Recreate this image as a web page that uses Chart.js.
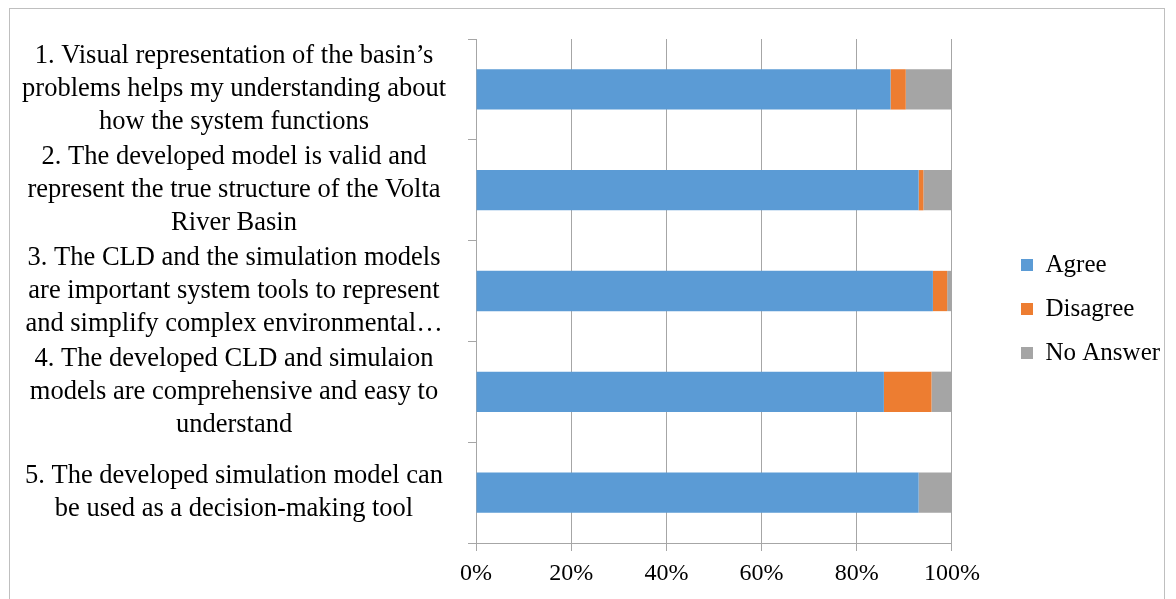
<!DOCTYPE html>
<html>
<head>
<meta charset="utf-8">
<script src="https://cdn.jsdelivr.net/npm/chart.js@4"></script>
<style>
  html, body { margin: 0; padding: 0; background: #fff; }
  #wrap { position: relative; width: 1176px; height: 599px; }
  #frame { position: absolute; left: 9px; top: 8px; width: 1156px; height: 600px; border: 1px solid #bfbfbf; box-sizing: border-box; }
  canvas { position: absolute; left: 0; top: 0; }
</style>
</head>
<body>
<div id="wrap">
  <div id="frame"></div>
  <canvas id="grafico" width="1176" height="599"></canvas>
</div>
<script>
// === DATOS ===
const categorias = [
    ["1. Visual representation of the basin\u2019s", "problems helps my understanding about", "how the system functions"],
    ["2. The developed model is valid and", "represent the true structure of the Volta", "River Basin"],
    ["3. The CLD and the simulation models", "are important system tools to represent", "and simplify complex environmental\u2026"],
    ["4. The developed CLD and simulaion", "models are comprehensive and easy to", "understand"],
    ["5. The developed simulation model can", "be used as a decision-making tool"]
];
const agree = [87.1, 93, 96, 85.7, 93];
const disagree = [3.2, 1, 3, 10, 0];
const noAnswer = [9.7, 6, 1, 4.3, 7];
const ticksX = [0, 20, 40, 60, 80, 100];

const fuente = "'Liberation Serif', 'Times New Roman', serif";
const colorGrid = '#a6a6a6';

// ubica la leyenda como en el original (más a la derecha y un poco más arriba)
const moverLeyenda = {
    id: 'moverLeyenda',
    afterLayout(chart) {
        const lg = chart.legend;
        if (!lg) return;
        const dx = 1002 - lg.left;
        lg.left += dx;
        lg.right += dx;
        const dy = 309 - (lg.top + lg.bottom) / 2;
        lg.top += dy;
        lg.bottom += dy;
    }
};

new Chart(document.getElementById('grafico'), {
    type: 'bar',
    data: {
        labels: categorias,
        datasets: [
            { label: 'Agree', data: agree, backgroundColor: '#5B9BD5' },
            { label: 'Disagree', data: disagree, backgroundColor: '#ED7D31' },
            { label: 'No Answer', data: noAnswer, backgroundColor: '#A5A5A5' }
        ]
    },
    options: {
        indexAxis: 'y',
        responsive: false,
        animation: false,
        layout: { padding: { left: 10, right: 56, top: 39, bottom: 8 } },
        datasets: { bar: { categoryPercentage: 1, barPercentage: 0.4 } },
        scales: {
            x: {
                stacked: true,
                min: 0,
                max: 100,
                afterBuildTicks: s => { s.ticks = ticksX.map(v => ({ value: v })); },
                afterFit: s => { s.height = 48; s.paddingLeft = 0; s.paddingRight = 0; },
                grid: { color: colorGrid, tickLength: 8 },
                border: { color: colorGrid },
                ticks: {
                    color: '#000',
                    padding: 8,
                    font: { family: fuente, size: 24 },
                    callback: v => v + '%'
                }
            },
            y: {
                stacked: true,
                afterFit: s => { s.width = 466; s.paddingTop = 0; s.paddingBottom = 0; },
                grid: { color: colorGrid, drawOnChartArea: false, tickLength: 8 },
                border: { color: colorGrid },
                ticks: {
                    color: '#000',
                    crossAlign: 'center',
                    padding: 22,
                    autoSkip: false,
                    font: { family: fuente, size: 26.5, lineHeight: '33px' }
                }
            }
        },
        plugins: {
            tooltip: { enabled: false },
            legend: {
                position: 'right',
                labels: {
                    color: '#000',
                    boxWidth: 12,
                    boxHeight: 12,
                    padding: 19,
                    font: { family: fuente, size: 25 }
                }
            }
        }
    },
    plugins: [moverLeyenda]
});
</script>
</body>
</html>
